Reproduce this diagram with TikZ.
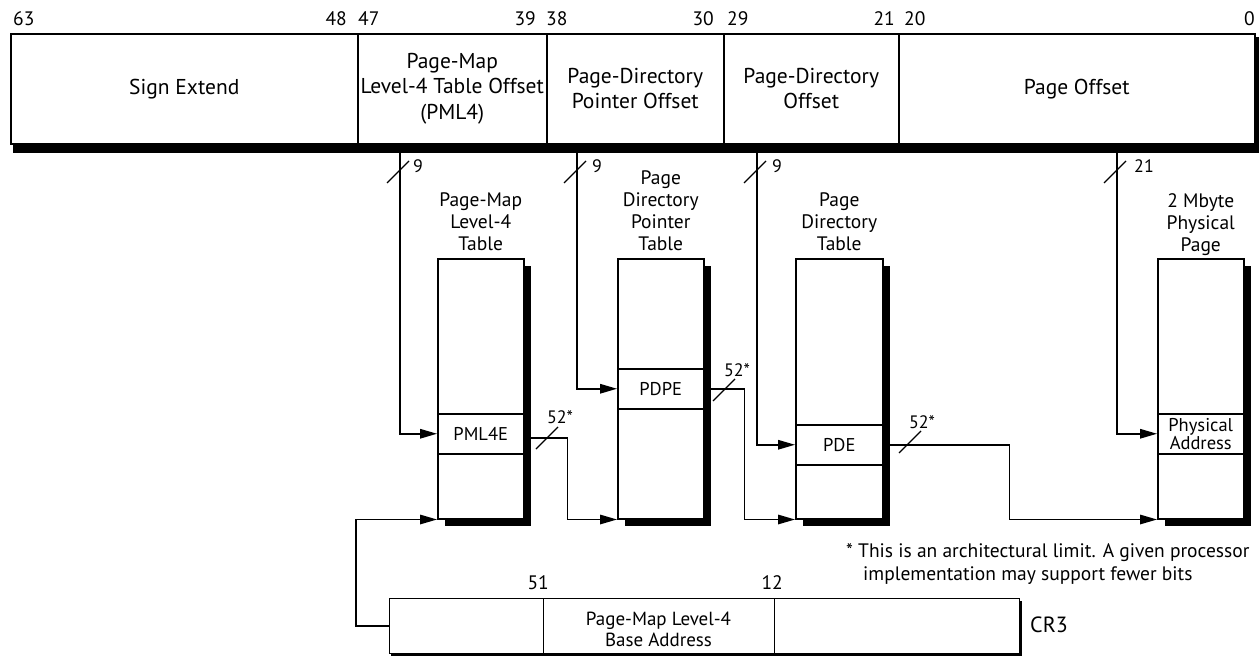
\documentclass[tikz,border=0pt]{standalone}
\usepackage{fontspec}
\setmainfont{PT Sans}
\usetikzlibrary{arrows.meta}
\begin{document}
\begin{tikzpicture}[x=1pt,y=-1pt,
  lw/.style={line width=1.5pt},
  fld/.style={draw, lw, inner sep=0pt, anchor=north west, align=center, minimum height=110pt, font=\fontsize{21.5}{25.5}\selectfont},
  crf/.style={draw, line width=1.2pt, fill=white, inner sep=0pt, anchor=north west, align=center, minimum height=55pt, font=\fontsize{19}{20.5}\selectfont},
  tbl/.style={draw, lw, fill=white, inner sep=0pt, anchor=north west, minimum width=86pt, minimum height=260pt},
  ent/.style={draw, lw, fill=white, inner sep=0pt, anchor=north west, minimum width=86pt, minimum height=40pt, align=center, font=\fontsize{18.5}{16}\selectfont},
  ttl/.style={anchor=south, align=center, inner sep=0pt, font=\fontsize{19.5}{22}\selectfont},
  bit/.style={inner sep=0pt, font=\fontsize{19.5}{22}\selectfont},
  num/.style={inner sep=0pt, font=\fontsize{18}{20}\selectfont},
  arr/.style={lw, -{Triangle[length=17pt,width=9.5pt]}},
  sl/.style={line width=1.3pt},
  shd/.style={fill=black}
]
\useasboundingbox (0,0) rectangle (1259,656);
\fill[white] (0,0) rectangle (1259,656);

% top register
\fill[shd] (13,143) rectangle (1259,153);
\fill[shd] (1254,37) rectangle (1259,153);
\node[fld, minimum width=347pt] (se) at (10,33) {Sign Extend};
\node[fld, minimum width=189pt] (pml4f) at (357,33) {Page-Map\\Level-4 Table Offset\\(PML4)};
\node[fld, minimum width=177pt] (pdpf) at (546,33) {Page-Directory\\Pointer Offset};
\node[fld, minimum width=175pt] (pdf) at (723,33) {Page-Directory\\Offset};
\node[fld, minimum width=356pt] (pof) at (898,33) {Page Offset};

% bit numbers
\node[bit, anchor=base west] (b63) at (13,25) {63};
\node[bit, anchor=base east] (b48) at (347,25) {48};
\node[bit, anchor=base west] (b47) at (358,25) {47};
\node[bit, anchor=base east] (b39) at (536,25) {39};
\node[bit, anchor=base west] (b38) at (546,25) {38};
\node[bit, anchor=base east] (b30) at (714,25) {30};
\node[bit, anchor=base west] (b29) at (727,25) {29};
\node[bit, anchor=base east] (b21) at (895,25) {21};
\node[bit, anchor=base west] (b20) at (904,25) {20};
\node[bit, anchor=base east] (b0) at (1255,25) {0};

% tables with shadows
\fill[shd] (445,266) rectangle (531,526);
\fill[shd] (625,266) rectangle (711,526);
\fill[shd] (803,266) rectangle (890,526);
\fill[shd] (1165,266) rectangle (1251,526);
\node[tbl] (pml4t) at (437,258) {};
\node[tbl] (pdpt) at (617,258) {};
\node[tbl, minimum width=87pt] (pdt) at (795,258) {};
\node[tbl] (ppt) at (1157,258) {};

\node[ent] (pml4e) at (437,413) {PML4E};
\node[ent] (pdpe) at (617,368) {PDPE};
\node[ent, minimum width=87pt] (pde) at (795,424) {PDE};
\node[ent] (pa) at (1157,413) {Physical\\Address};

% titles
\node[ttl, yshift=7pt] (t1) at (pml4t.north) {Page-Map\\Level-4\\Table};
\node[ttl, yshift=7pt] (t2) at (pdpt.north) {Page\\Directory\\Pointer\\Table};
\node[ttl, yshift=7pt] (t3) at (pdt.north) {Page\\Directory\\Table};
\node[ttl, yshift=2pt] (t4) at (ppt.north) {2 Mbyte\\Physical\\Page};

% index lines
\coordinate (v1) at (400,153);
\coordinate (v2) at (577,153);
\coordinate (v3) at (757,153);
\coordinate (v4) at (1117,153);
\draw[arr] (v1) |- (pml4e.west);
\draw[arr] (v2) |- (pdpe.west);
\draw[arr] (v3) |- (pde.west);
\draw[arr] (v4) |- (pa.west);

\draw[sl] (387,183) -- (409,161);
\draw[sl] (564,183) -- (586,161);
\draw[sl] (744,183) -- (766,161);
\draw[sl] (1104,183) -- (1126,161);
\node[num] (n1) at (418,166) {9};
\node[num] (n2) at (597,166) {9};
\node[num] (n3) at (777,166) {9};
\node[num] (n4) at (1144,166) {21};

% entry to next table
\draw[arr] ([yshift=-4pt]pml4e.east) -- ++(43,0) |- (pdpt.south west);
\draw[arr] (pdpe.east) -- ++(40,0) |- (pdt.south west);
\draw[arr] (pde.east) -- ++(126,0) |- (ppt.south west);

\draw[sl] (536,449) -- (558,427);
\draw[sl] (713,401) -- (735,379);
\draw[sl] (899,453) -- (921,431);
\node[num] (m1) at (560,417) {52*};
\node[num] (m2) at (737,370) {52*};
\node[num] (m3) at (922,422) {52*};

% footnote
\node[inner sep=0pt, anchor=base west, align=left, font=\fontsize{19.5}{23}\selectfont] (fn) at (846,580) {* This is an architectural limit. A given processor\\\hspace*{17pt}implementation may support fewer bits};

% CR3
\fill[shd] (391,601) rectangle (1022,656);
\node[crf, minimum width=155pt] (cr3a) at (389,598) {};
\node[crf, minimum width=231pt] (cr3b) at (543,598) {};
\node[crf, minimum width=245pt] (cr3c) at (774,598) {};
\node[inner sep=0pt, anchor=base, align=center, font=\fontsize{19}{20.5}\selectfont] (cr3t) at (658.5,646) {Page-Map Level-4\\Base Address};
\node[bit, anchor=base east] (b51) at (549,589) {51};
\node[bit, anchor=base east] (b12) at (783,589) {12};
\node[inner sep=0pt, anchor=base west, font=\fontsize{22}{24}\selectfont] (cr3) at (1030,632) {CR3};

\draw[arr] (cr3a.west) -- ++(-33,0) |- (pml4t.south west);
\end{tikzpicture}
\end{document}
